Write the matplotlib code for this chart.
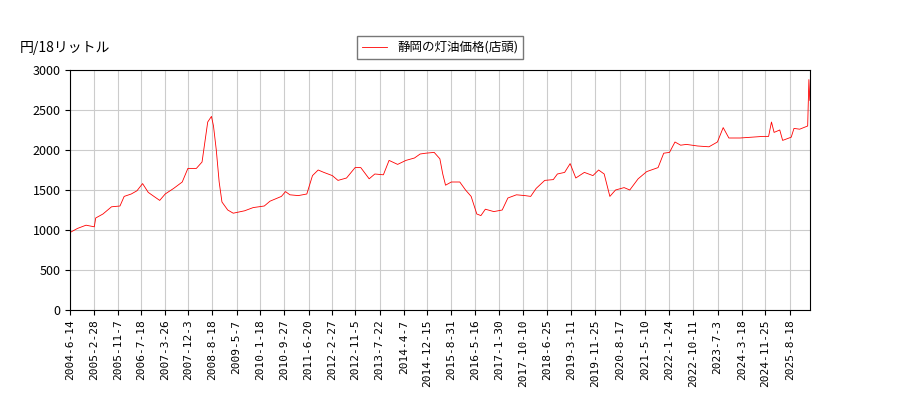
import matplotlib
matplotlib.use("Agg")
import matplotlib.pyplot as plt
import pandas as pd

plt.rcParams['font.family'] = ['Noto Sans CJK JP', 'DejaVu Sans']

dates = ["2004-06-14","2004-09-01","2004-12-01","2005-02-28","2005-03-15","2005-06-01","2005-09-01","2005-12-01","2006-01-15","2006-04-01","2006-06-01","2006-08-01","2006-10-01","2006-12-01","2007-02-01","2007-04-01","2007-07-01","2007-10-01","2007-12-01","2008-03-01","2008-05-01","2008-07-01","2008-08-10","2008-09-01","2008-10-01","2008-11-01","2008-12-01","2009-02-01","2009-04-01","2009-08-01","2009-11-01","2010-03-01","2010-05-01","2010-09-01","2010-10-15","2010-12-01","2011-03-01","2011-06-01","2011-08-01","2011-10-01","2011-12-01","2012-03-01","2012-05-01","2012-08-01","2012-11-01","2013-01-01","2013-04-01","2013-06-01","2013-09-01","2013-11-01","2014-02-01","2014-05-01","2014-08-01","2014-10-01","2014-12-01","2015-03-01","2015-05-01","2015-06-01","2015-07-01","2015-09-01","2015-12-01","2016-02-01","2016-04-01","2016-06-01","2016-07-15","2016-09-01","2016-12-01","2017-03-01","2017-05-01","2017-08-01","2017-11-01","2018-01-01","2018-03-01","2018-06-01","2018-09-01","2018-10-15","2019-01-01","2019-03-01","2019-05-01","2019-08-01","2019-11-01","2020-01-01","2020-03-01","2020-05-01","2020-07-01","2020-10-01","2020-12-01","2021-03-01","2021-06-01","2021-10-01","2021-12-01","2022-02-01","2022-04-01","2022-06-01","2022-08-01","2022-12-01","2023-04-01","2023-07-01","2023-09-01","2023-11-01","2024-03-01","2024-07-01","2024-11-01","2025-01-01","2025-02-01","2025-03-01","2025-05-01","2025-06-01","2025-09-01","2025-10-01","2025-12-01","2026-02-25","2026-03-10","2026-03-20"]
prices = [970,1020,1060,1040,1150,1200,1290,1300,1420,1450,1490,1580,1470,1420,1370,1450,1520,1600,1770,1770,1850,2350,2420,2300,2000,1600,1350,1250,1210,1240,1280,1300,1360,1420,1480,1440,1430,1450,1680,1750,1720,1680,1620,1650,1780,1780,1640,1700,1690,1870,1820,1870,1900,1950,1960,1970,1890,1700,1560,1600,1600,1500,1420,1200,1180,1260,1230,1250,1400,1440,1430,1420,1520,1620,1630,1700,1720,1830,1650,1720,1680,1750,1700,1420,1500,1530,1500,1640,1730,1780,1960,1970,2100,2060,2070,2050,2040,2100,2280,2150,2150,2160,2170,2170,2350,2220,2250,2120,2160,2270,2260,2300,2880,2620]
tick_labels = ["2004-6-14","2005-2-28","2005-11-7","2006-7-18","2007-3-26","2007-12-3","2008-8-18","2009-5-7","2010-1-18","2010-9-27","2011-6-20","2012-2-27","2012-11-5","2013-7-22","2014-4-7","2014-12-15","2015-8-31","2016-5-16","2017-1-30","2017-10-10","2018-6-25","2019-3-11","2019-11-25","2020-8-17","2021-5-10","2022-1-24","2022-10-11","2023-7-3","2024-3-18","2024-11-25","2025-8-18"]

x = pd.to_datetime(dates)
fig = plt.figure(figsize=(9, 4), dpi=100)
ax = fig.add_axes([0.078, 0.225, 0.822, 0.6])
ax.plot(x, prices, color='red', lw=0.6, label='静岡の灯油価格(店頭)')
ax.set_xlim(pd.Timestamp("2004-06-14"), pd.Timestamp("2026-03-22"))
ax.set_ylim(0, 3000)
ax.set_yticks(range(0, 3001, 500))
tk = pd.to_datetime(tick_labels)
ax.set_xticks(tk)
ax.set_xticklabels(tick_labels, rotation=90, fontsize=8, family=['DejaVu Sans Mono'])
ax.tick_params(axis='y', labelsize=9)
ax.grid(True, color='#cccccc', lw=0.8)
fig.text(0.022, 0.87, '円/18リットル', fontsize=10)
ax.legend(loc='lower center', bbox_to_anchor=(0.5, 1.02), fontsize=9, frameon=True, edgecolor='#555555', fancybox=False)
fig.savefig('out.png')
